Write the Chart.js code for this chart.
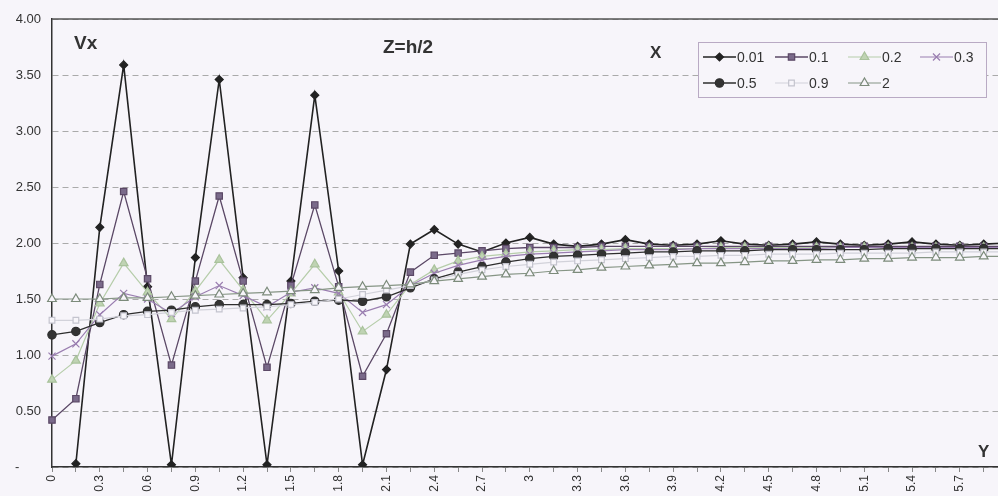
<!DOCTYPE html>
<html>
<head>
<meta charset="utf-8">
<script src="https://cdn.jsdelivr.net/npm/chart.js@4/dist/chart.umd.min.js"></script>
<style>
  html, body { margin: 0; padding: 0; background: #f7f5fa; overflow: hidden; width: 998px; height: 496px; }
  #wrap { position: absolute; left: 0; top: 0; width: 1025px; height: 496px; }
</style>
</head>
<body>
<div id="wrap"><canvas id="chart"></canvas></div>
<script>
const categories = [
  "0", "0.15", "0.3", "0.45", "0.6", "0.75", "0.9", "1.05", "1.2", "1.35", "1.5",
  "1.65", "1.8", "1.95", "2.1", "2.25", "2.4", "2.55", "2.7", "2.85", "3",
  "3.15", "3.3", "3.45", "3.6", "3.75", "3.9", "4.05", "4.2", "4.35", "4.5",
  "4.65", "4.8", "4.95", "5.1", "5.25", "5.4", "5.55", "5.7", "5.85", "6"
];

const seriesNames = ["0.01", "0.1", "0.2", "0.3", "0.5", "0.9", "2"];

const x001 = [-0.45, 0.03, 2.14, 3.59, 1.61, 0.02, 1.87, 3.46, 1.69, 0.02, 1.66, 3.32, 1.75, 0.02, 0.87, 1.99, 2.12, 1.99, 1.92, 2.00, 2.05, 1.99, 1.97, 1.99, 2.03, 1.99, 1.98, 1.99, 2.02, 1.99, 1.98, 1.99, 2.01, 1.99, 1.98, 1.99, 2.01, 1.99, 1.98, 1.99, 2.00];
const x01 = [0.42, 0.61, 1.63, 2.46, 1.68, 0.91, 1.66, 2.42, 1.66, 0.89, 1.62, 2.34, 1.61, 0.81, 1.19, 1.74, 1.89, 1.91, 1.93, 1.95, 1.96, 1.96, 1.96, 1.97, 1.97, 1.97, 1.97, 1.97, 1.97, 1.97, 1.97, 1.97, 1.97, 1.97, 1.97, 1.97, 1.97, 1.97, 1.97, 1.97, 1.97];
const x02 = [0.78, 0.95, 1.46, 1.82, 1.56, 1.32, 1.57, 1.85, 1.58, 1.31, 1.55, 1.81, 1.56, 1.21, 1.36, 1.63, 1.76, 1.84, 1.88, 1.90, 1.92, 1.93, 1.94, 1.94, 1.95, 1.95, 1.95, 1.95, 1.96, 1.96, 1.96, 1.96, 1.96, 1.96, 1.96, 1.96, 1.96, 1.96, 1.96, 1.96, 1.96];
const x03 = [0.99, 1.10, 1.36, 1.55, 1.50, 1.37, 1.52, 1.62, 1.53, 1.43, 1.56, 1.60, 1.55, 1.38, 1.45, 1.62, 1.73, 1.80, 1.85, 1.88, 1.90, 1.91, 1.92, 1.93, 1.94, 1.94, 1.94, 1.95, 1.95, 1.95, 1.95, 1.95, 1.95, 1.96, 1.96, 1.96, 1.96, 1.96, 1.96, 1.96, 1.96];
const x05 = [1.18, 1.21, 1.29, 1.36, 1.39, 1.40, 1.43, 1.45, 1.45, 1.45, 1.46, 1.48, 1.49, 1.48, 1.52, 1.60, 1.68, 1.74, 1.79, 1.83, 1.86, 1.88, 1.89, 1.90, 1.91, 1.92, 1.92, 1.93, 1.93, 1.93, 1.94, 1.94, 1.94, 1.94, 1.94, 1.95, 1.95, 1.95, 1.95, 1.95, 1.95];
const x09 = [1.31, 1.31, 1.32, 1.35, 1.36, 1.38, 1.40, 1.41, 1.42, 1.43, 1.45, 1.47, 1.50, 1.54, 1.58, 1.62, 1.67, 1.72, 1.76, 1.79, 1.81, 1.83, 1.84, 1.85, 1.86, 1.87, 1.88, 1.88, 1.89, 1.89, 1.90, 1.90, 1.90, 1.91, 1.91, 1.91, 1.91, 1.92, 1.92, 1.92, 1.92];
const x2 = [1.50, 1.50, 1.50, 1.51, 1.51, 1.52, 1.53, 1.54, 1.55, 1.56, 1.57, 1.58, 1.60, 1.61, 1.62, 1.63, 1.66, 1.68, 1.70, 1.72, 1.73, 1.75, 1.76, 1.78, 1.79, 1.80, 1.81, 1.82, 1.82, 1.83, 1.84, 1.84, 1.85, 1.85, 1.86, 1.86, 1.87, 1.87, 1.87, 1.88, 1.88];

const yTicks = [0, 0.5, 1, 1.5, 2, 2.5, 3, 3.5, 4];

const BG = "#f7f5fa";
const FONT = "'Liberation Sans', Arial, sans-serif";

const styles = [
  { line: "#222222", fill: "#222222", edge: "#222222", point: "rectRot", r: 4, w: 1.6 },
  { line: "#5b4866", fill: "#7a6a8a", edge: "#5b4866", point: "rect", r: 4.5, w: 1.3 },
  { line: "#b6cdaa", fill: "#bfd3b3", edge: "#a9c29c", point: "triangle", r: 5, w: 1.2 },
  { line: "#9a7eb0", fill: "#9a7eb0", edge: "#9a7eb0", point: "crossRot", r: 5, w: 1.2 },
  { line: "#2e2e2e", fill: "#333333", edge: "#2e2e2e", point: "circle", r: 4.2, w: 1.3 },
  { line: "#d2d2da", fill: BG, edge: "#c4c4ce", point: "rect", r: 4, w: 1.2 },
  { line: "#869585", fill: BG, edge: "#7c8b7b", point: "triangle", r: 5, w: 1.2 },
];

const seriesValues = [x001, x01, x02, x03, x05, x09, x2];

const datasets = seriesValues.map((values, i) => ({
  label: seriesNames[i],
  data: values,
  borderColor: styles[i].line,
  borderWidth: styles[i].w,
  backgroundColor: styles[i].fill,
  pointBackgroundColor: styles[i].fill,
  pointBorderColor: styles[i].edge,
  pointBorderWidth: 1.2,
  pointStyle: styles[i].point,
  pointRadius: styles[i].r,
  tension: 0,
  fill: false,
  order: seriesValues.length - i,
}));

const decorPlugin = {
  id: "decor",
  afterDraw(chart) {
    const { ctx, chartArea } = chart;
    ctx.save();
    // top frame line
    ctx.strokeStyle = "#555555";
    ctx.lineWidth = 1.5;
    ctx.beginPath();
    ctx.moveTo(chartArea.left, chartArea.top);
    ctx.lineTo(chartArea.right, chartArea.top);
    ctx.stroke();

    // titles inside the plot
    ctx.fillStyle = "#333333";
    ctx.textBaseline = "alphabetic";
    ctx.textAlign = "left";
    ctx.font = "bold 19px " + FONT;
    ctx.fillText("Vx", 74, 49);
    ctx.fillText("Z=h/2", 383, 53);
    ctx.font = "bold 17px " + FONT;
    ctx.fillText("X", 650, 58);
    ctx.fillText("Y", 978, 457);

    // legend box
    ctx.fillStyle = BG;
    ctx.strokeStyle = "#b9aac4";
    ctx.lineWidth = 1;
    ctx.fillRect(698, 42, 288, 55);
    ctx.strokeRect(698.5, 42.5, 288, 55);

    const cols = [703, 775, 848, 920];
    const rows = [57, 83];
    ctx.font = "14px " + FONT;
    ctx.textBaseline = "middle";
    datasets.forEach((ds, i) => {
      const x = cols[i % 4];
      const y = rows[Math.floor(i / 4)];
      ctx.strokeStyle = ds.borderColor;
      ctx.lineWidth = ds.borderWidth;
      ctx.beginPath();
      ctx.moveTo(x, y);
      ctx.lineTo(x + 33, y);
      ctx.stroke();
      ctx.fillStyle = ds.pointBackgroundColor;
      ctx.strokeStyle = ds.pointBorderColor;
      ctx.lineWidth = 1.2;
      Chart.helpers.drawPoint(ctx, {
        pointStyle: ds.pointStyle,
        radius: ds.pointRadius,
        rotation: 0,
        borderWidth: 1.2,
      }, x + 16.5, y);
      ctx.fillStyle = "#333333";
      ctx.fillText(ds.label, x + 34, y + 1);
    });
    ctx.restore();
  },
};

new Chart(document.getElementById("chart"), {
  type: "line",
  data: { labels: categories, datasets },
  options: {
    responsive: true,
    maintainAspectRatio: false,
    animation: false,
    layout: { padding: { top: 19, left: 0, right: 0, bottom: 0 } },
    plugins: {
      legend: { display: false },
      tooltip: { enabled: false },
    },
    scales: {
      x: {
        type: "category",
        offset: false,
        afterFit: (scale) => { scale.height = 29; },
        grid: { drawOnChartArea: false, drawTicks: true, tickLength: 5, color: "#888888" },
        border: { color: "#333333", width: 1.5 },
        ticks: {
          autoSkip: false,
          maxRotation: 90,
          minRotation: 90,
          padding: 3,
          color: "#333333",
          font: { family: FONT, size: 12 },
          callback: (value, index) => (index % 2 === 0 ? categories[index] : ""),
        },
      },
      y: {
        min: 0,
        max: 4,
        afterFit: (scale) => { scale.width = 52; },
        afterBuildTicks: (scale) => { scale.ticks = yTicks.map((v) => ({ value: v })); },
        grid: { drawTicks: false, color: "#aaaaaa", lineWidth: 1 },
        border: { color: "#333333", width: 1.5, dash: [6, 4] },
        ticks: {
          padding: 11,
          color: "#333333",
          font: { family: FONT, size: 13 },
          callback: (value) => (value === 0 ? "-      " : value.toFixed(2)),
        },
      },
    },
  },
  plugins: [decorPlugin],
});
</script>
</body>
</html>
